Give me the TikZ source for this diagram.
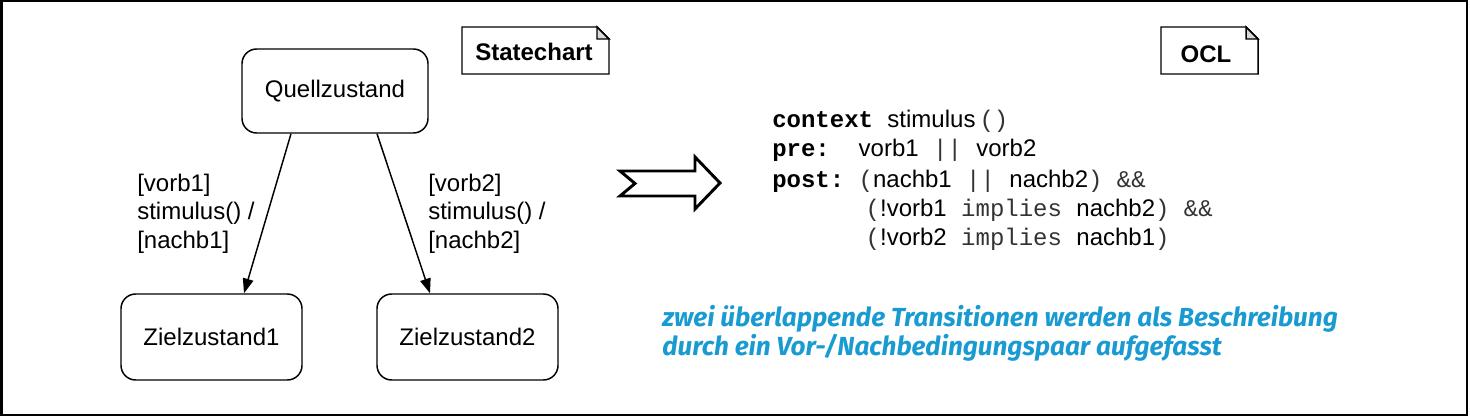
\documentclass[tikz,border=0pt]{standalone}
\usepackage{fontspec}
\setmainfont{Liberation Sans}
\newfontfamily\monof{Liberation Mono}
\newfontfamily\comicf{Fira Sans}
\usetikzlibrary{arrows.meta,calc}
\definecolor{noteblue}{RGB}{25,155,210}
\newcommand{\kw}[1]{{\monof\bfseries #1}}
\newcommand{\mo}[1]{{\monof\color{black!80}#1}}
\begin{document}
\begin{tikzpicture}[x=0.75pt,y=-0.75pt,
  every node/.style={font=\fontsize{18}{21.75}\selectfont},
  statebox/.style={draw,line width=1.1pt,rounded corners=11pt,minimum height=63pt,inner sep=0pt},
  trans/.style={line width=1.1pt,-{Triangle[length=11pt,width=8pt]}},
  notebox/.style={line width=1.1pt},
  lbl/.style={align=left,anchor=base west,inner sep=0pt},
  code/.style={anchor=base west,inner sep=0pt},
  hint/.style={anchor=base west,inner sep=0pt,text=noteblue,font=\fontsize{19.6}{21.75}\comicf\bfseries\itshape}]
\useasboundingbox (0,0) rectangle (1470,420);
\draw[line width=1.5pt] (1.5,1.5) rectangle (1467,415);

% notes
\draw[notebox] (462,27) -- (597,27) -- (609,39) -- (609,74) -- (462,74) -- cycle;
\draw[notebox,fill=black!15] (597,27) -- (597,39) -- (609,39) -- cycle;
\node[font=\fontsize{18}{21.75}\selectfont\bfseries] (sc) at (534,52) {Statechart};
\draw[notebox] (1161,27) -- (1246,27) -- (1258,39) -- (1258,74) -- (1161,74) -- cycle;
\draw[notebox,fill=black!15] (1246,27) -- (1246,39) -- (1258,39) -- cycle;
\node[font=\fontsize{18}{21.75}\selectfont\bfseries] (ocl) at (1206,54) {OCL};

% states
\node[statebox,minimum width=139.5pt] (Q) at (335,91) {Quellzustand};
\node[statebox,minimum width=135.75pt,minimum height=64.5pt] (Z1) at (211.5,337) {Zielzustand1};
\node[statebox,minimum width=135.75pt,minimum height=64.5pt] (Z2) at (467.5,337) {Zielzustand2};

\draw[trans] ($(Q.south)+(-44,0)$) -- ($(Z1.north)+(32.5,0)$);
\draw[trans] ($(Q.south)+(42,0)$) -- ($(Z2.north)+(-37.5,0)$);

\node[lbl] (l1) at (137,249) {{[vorb1]}\\{}{stimulus() /}\\{}{[nachb1]}};
\node[lbl] (l2) at (428,249) {{[vorb2]}\\{}{stimulus() /}\\{}{[nachb2]}};

% big hollow arrow
\draw[line width=2.2pt,line join=miter] (620,171) -- (695,171) -- (695,157) -- (720,183) -- (695,209) -- (695,196) -- (620,196) -- (635,183.5) -- cycle;

% OCL code
\node[code] (c1) at (772,128) {\kw{context}\mo{~}stimulus\hspace{3pt}\mo{()}};
\node[code] (c2) at (772,157) {\kw{pre:}\mo{~~}vorb1\mo{~||~}vorb2};
\node[code] (c3) at (772,188) {\kw{post:}\mo{~(}nachb1\mo{~||~}nachb2\mo{)~\&\&}};
\node[code] (c4) at (779,217) {\mo{~~~~~~(}!vorb1\mo{~implies~}nachb2\mo{)~\&\&}};
\node[code] (c5) at (779,246) {\mo{~~~~~~(}!vorb2\mo{~implies~}nachb1\mo{)}};

% hint
\node[hint] (h1) at (662,326) {zwei überlappende Transitionen werden als Beschreibung};
\node[hint] (h2) at (662,355) {durch ein Vor-/Nachbedingungspaar aufgefasst};
\end{tikzpicture}
\end{document}
